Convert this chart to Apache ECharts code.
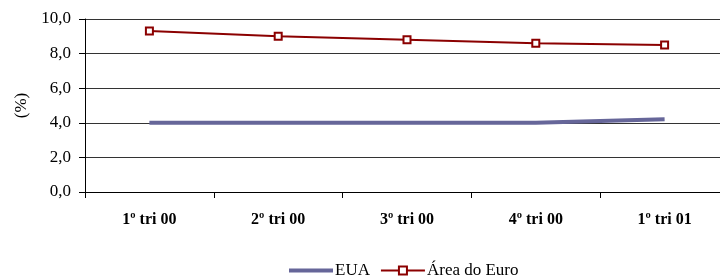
<!DOCTYPE html>
<html>
<head>
<meta charset="utf-8">
<script src="https://cdn.jsdelivr.net/npm/echarts@6/dist/echarts.min.js"></script>
<style>
  html, body { margin: 0; padding: 0; background: #fff; overflow: hidden; }
  #chart { width: 740px; height: 277px; }
</style>
</head>
<body>
<div id="chart"></div>
<script>
// 数据
const categories = ['1º tri 00', '2º tri 00', '3º tri 00', '4º tri 00', '1º tri 01'];
const euaValues = [4.0, 4.0, 4.0, 4.0, 4.2];
const euroValues = [9.3, 9.0, 8.8, 8.6, 8.5];

const serif = '"Liberation Serif", "DejaVu Serif", serif';

const chart = echarts.init(document.getElementById('chart'));
chart.setOption({
  animation: false,
  textStyle: { fontFamily: serif, color: '#000' },
  // 绘图区右侧超出 720px 可视范围
  grid: { left: 85, top: 19, right: 11, height: 173 },
  legend: {
    top: 257,
    left: 284,
    itemWidth: 44,
    itemHeight: 10,
    itemGap: 10,
    textStyle: { fontFamily: serif, fontSize: 17, color: '#000', padding: [0, 0, 0, -3] },
    data: [
      { name: 'EUA', icon: 'path://M0,0L44,0L44,4L0,4Z' },
      'Área do Euro'
    ]
  },
  xAxis: {
    type: 'category',
    data: categories,
    boundaryGap: true,
    axisLine: { lineStyle: { color: '#000', width: 1 } },
    axisTick: { show: true, length: 6, lineStyle: { color: '#000' } },
    axisLabel: { fontFamily: serif, fontSize: 16, fontWeight: 'bold', color: '#000', margin: 20 }
  },
  yAxis: {
    type: 'value',
    min: 0,
    max: 10,
    interval: 2,
    name: '(%)',
    nameLocation: 'middle',
    nameRotate: 90,
    nameGap: 52,
    nameTextStyle: { fontFamily: serif, fontSize: 17, color: '#000' },
    axisLine: { show: true, lineStyle: { color: '#000', width: 1 } },
    axisTick: { show: true, length: 6, lineStyle: { color: '#000' } },
    axisLabel: {
      fontFamily: serif, fontSize: 17, color: '#000', margin: 14,
      formatter: v => v.toFixed(1).replace('.', ',')
    },
    splitLine: { lineStyle: { color: '#333', width: 1 } }
  },
  series: [
    {
      name: 'EUA',
      type: 'line',
      data: euaValues,
      symbol: 'none',
      lineStyle: { color: '#666699', width: 4 },
      itemStyle: { color: '#666699' }
    },
    {
      name: 'Área do Euro',
      type: 'line',
      data: euroValues,
      symbol: 'rect',
      symbolSize: 7,
      lineStyle: { color: '#8B0000', width: 2 },
      itemStyle: { color: '#fff', borderColor: '#8B0000', borderWidth: 2 }
    }
  ]
});
</script>
</body>
</html>
